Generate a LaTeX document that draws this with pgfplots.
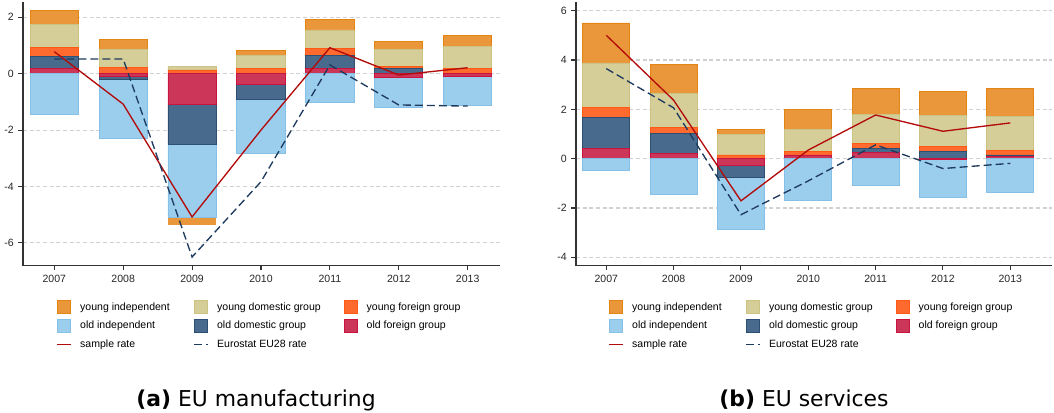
\documentclass[border=0pt]{standalone}
\usepackage{fontspec}
\setmainfont{Liberation Sans}
\newfontfamily\capfont{DejaVu Sans}
\usepackage{pgfplots}
\pgfplotsset{compat=1.18}
\usepackage{pgfplotstable}

\definecolor{cYI}{HTML}{E9973A}
\definecolor{cYIb}{HTML}{E38413}
\definecolor{cYD}{HTML}{D5CE98}
\definecolor{cYDb}{HTML}{CBC283}
\definecolor{cYF}{HTML}{FF6B2F}
\definecolor{cYFb}{HTML}{FF5A14}
\definecolor{cOI}{HTML}{9BCDEC}
\definecolor{cOIb}{HTML}{86C0E6}
\definecolor{cOD}{HTML}{486A8C}
\definecolor{cODb}{HTML}{2D4F73}
\definecolor{cOF}{HTML}{CC3659}
\definecolor{cOFb}{HTML}{C8143F}
\definecolor{cSample}{HTML}{B30A0A}
\definecolor{cEuro}{HTML}{1E3A5F}

% EU manufacturing: contributions by firm group
\pgfplotstableread{
year oF oD oI yF yD yI
2007 0.19 0.41 -1.44 0.33 0.83 0.49
2008 -0.08 -0.11 -2.10 0.23 0.62 0.36
2009 -1.09 -1.42 -2.59 0.13 0.14 -0.25
2010 -0.38 -0.52 -1.94 0.17 0.46 0.20
2011 0.20 0.46 -1.02 0.22 0.67 0.38
2012 -0.12 0.18 -1.08 0.08 0.60 0.29
2013 -0.08 0.02 -1.06 0.15 0.81 0.36
}\manuf
\pgfplotstableread{
year sample euro
2007 0.78 0.52
2008 -1.08 0.52
2009 -5.08 -6.50
2010 -2.00 -3.83
2011 0.92 0.31
2012 -0.05 -1.11
2013 0.21 -1.15
}\manufline
% EU services
\pgfplotstableread{
year oF oD oI yF yD yI
2007 0.43 1.25 -0.48 0.41 1.79 1.62
2008 0.21 0.81 -1.45 0.26 1.37 1.16
2009 -0.27 -0.50 -2.11 0.15 0.84 0.21
2010 0.15 0.00 -1.69 0.16 0.88 0.82
2011 0.26 0.16 -1.07 0.20 1.19 1.04
2012 -0.03 0.31 -1.55 0.20 1.25 0.96
2013 0.08 0.07 -1.37 0.20 1.37 1.11
}\serv
\pgfplotstableread{
year sample euro
2007 5.00 3.65
2008 2.37 2.06
2009 -1.71 -2.27
2010 0.35 -0.90
2011 1.77 0.56
2012 1.11 -0.40
2013 1.45 -0.19
}\servline

\pgfplotsset{
  common/.style={scale only axis, height=197.8pt, anchor=south west},
  frame/.style={common,
    axis x line*=bottom, axis y line*=left,
    axis line style={-, draw=black!80, line width=0.9pt},
    tick style={draw=black!80, line width=0.8pt},
    major tick length=3.5pt, tick align=outside,
    xtick={2007,2008,2009,2010,2011,2012,2013},
    ymajorgrids,
    major grid style={draw=black!18, dash pattern=on 3pt off 2pt, line width=0.8pt},
    tick label style={font=\fontsize{7.9}{9}\selectfont, text=black!85},
    /pgf/number format/assume math mode=true,
    /pgf/number format/1000 sep={},
    ybar stacked, bar width=0.7},
  over/.style={common, hide axis},
  bd/.style={line width=0.6pt},
  sq legend/.style={legend image code/.code={\draw[line width=0.75pt,##1] (0.4pt,-4.9pt) rectangle (10.1pt,4.9pt);}},
  sampleline/.style={color=cSample, line width=1pt, mark=none,
    legend image code/.code={\draw[cSample, line width=1pt] (0pt,0pt) -- (10.5pt,0pt);}},
  euroline/.style={color=cEuro, line width=1pt, mark=none, dash pattern=on 6pt off 3pt,
    legend image code/.code={\draw[cEuro, line width=1pt, dash pattern=on 6pt off 3pt] (0pt,0pt) -- (10.5pt,0pt);}},
  leg/.style={legend style={at={(axis description cs:#1,-0.128)}, anchor=north west,
    draw=none, fill=none, inner sep=0pt, font=\fontsize{7.9}{9}\selectfont,
    legend columns=3, row sep=2.7pt,
    /tikz/every odd column/.append style={column sep=4.5pt},
    /tikz/every even column/.append style={column sep=15.5pt}},
    legend cell align=left},
}

\newcommand\legendbars{%
  \addlegendimage{sq legend, fill=cYI, draw=cYIb}\addlegendentry{young independent}
  \addlegendimage{sq legend, fill=cYD, draw=cYDb}\addlegendentry{young domestic group}
  \addlegendimage{sq legend, fill=cYF, draw=cYFb}\addlegendentry{young foreign group}
  \addlegendimage{sq legend, fill=cOI, draw=cOIb}\addlegendentry{old independent}
  \addlegendimage{sq legend, fill=cOD, draw=cODb}\addlegendentry{old domestic group}
  \addlegendimage{sq legend, fill=cOF, draw=cOFb}\addlegendentry{old foreign group}
}

\begin{document}
\begin{tikzpicture}
\path[use as bounding box] (0,0) rectangle (790.5pt,309pt);

% ---------------- (a) EU manufacturing ----------------
\begin{axis}[frame, at={(17.25pt,109.7pt)}, width=357.75pt,
  xmin=2006.546, xmax=2013.469, ymin=-6.81, ymax=2.54, ytick={-6,-4,-2,0,2}]
  \addplot[fill=cOF, draw=cOFb, bd] table[x=year, y expr={max(\thisrow{oF},0)}]{\manuf};
  \addplot[fill=cOD, draw=cODb, bd] table[x=year, y expr={max(\thisrow{oD},0)}]{\manuf};
  \addplot[fill=cOI, draw=none] table[x=year, y expr={max(\thisrow{oI},0)}]{\manuf};
  \addplot[fill=cYF, draw=cYFb, bd] table[x=year, y expr={max(\thisrow{yF},0)}]{\manuf};
  \addplot[fill=cYD, draw=cYDb, bd] table[x=year, y expr={max(\thisrow{yD},0)}]{\manuf};
  \addplot[fill=cYI, draw=cYIb, bd] table[x=year, y expr={max(\thisrow{yI},0)}]{\manuf};
\end{axis}
\begin{axis}[over, ybar stacked, bar width=0.7, at={(17.25pt,109.7pt)}, width=357.75pt,
  xmin=2006.546, xmax=2013.469, ymin=-6.81, ymax=2.54]
  \addplot[fill=cOF, draw=cOFb, bd] table[x=year, y expr={min(\thisrow{oF},0)}]{\manuf};
  \addplot[fill=cOD, draw=cODb, bd] table[x=year, y expr={min(\thisrow{oD},0)}]{\manuf};
  \addplot[fill=cOI, draw=cOIb, bd] table[x=year, y expr={min(\thisrow{oI},0)}]{\manuf};
  \addplot[fill=cYF, draw=none] table[x=year, y expr={min(\thisrow{yF},0)}]{\manuf};
  \addplot[fill=cYD, draw=none] table[x=year, y expr={min(\thisrow{yD},0)}]{\manuf};
  \addplot[fill=cYI, draw=none] table[x=year, y expr={min(\thisrow{yI},0)}]{\manuf};
\end{axis}
\begin{axis}[over, at={(17.25pt,109.7pt)}, width=357.75pt,
  xmin=2006.546, xmax=2013.469, ymin=-6.81, ymax=2.54, leg=0.069]
  \legendbars
  \addplot[sampleline] table[x=year, y=sample]{\manufline};
  \addlegendentry{sample rate}
  \addplot[euroline] table[x=year, y=euro]{\manufline};
  \addlegendentry{Eurostat EU28 rate}
\end{axis}

% ---------------- (b) EU services ----------------
\begin{axis}[frame, at={(432pt,109.7pt)}, width=357pt,
  xmin=2006.55, xmax=2013.62, ymin=-4.34, ymax=6.35, ytick={-4,-2,0,2,4,6}]
  \addplot[fill=cOF, draw=cOFb, bd] table[x=year, y expr={max(\thisrow{oF},0)}]{\serv};
  \addplot[fill=cOD, draw=cODb, bd] table[x=year, y expr={max(\thisrow{oD},0)}]{\serv};
  \addplot[fill=cOI, draw=none] table[x=year, y expr={max(\thisrow{oI},0)}]{\serv};
  \addplot[fill=cYF, draw=cYFb, bd] table[x=year, y expr={max(\thisrow{yF},0)}]{\serv};
  \addplot[fill=cYD, draw=cYDb, bd] table[x=year, y expr={max(\thisrow{yD},0)}]{\serv};
  \addplot[fill=cYI, draw=cYIb, bd] table[x=year, y expr={max(\thisrow{yI},0)}]{\serv};
\end{axis}
\begin{axis}[over, ybar stacked, bar width=0.7, at={(432pt,109.7pt)}, width=357pt,
  xmin=2006.55, xmax=2013.62, ymin=-4.34, ymax=6.35]
  \addplot[fill=cOF, draw=cOFb, bd] table[x=year, y expr={min(\thisrow{oF},0)}]{\serv};
  \addplot[fill=cOD, draw=cODb, bd] table[x=year, y expr={min(\thisrow{oD},0)}]{\serv};
  \addplot[fill=cOI, draw=cOIb, bd] table[x=year, y expr={min(\thisrow{oI},0)}]{\serv};
  \addplot[fill=cYF, draw=none] table[x=year, y expr={min(\thisrow{yF},0)}]{\serv};
  \addplot[fill=cYD, draw=none] table[x=year, y expr={min(\thisrow{yD},0)}]{\serv};
  \addplot[fill=cYI, draw=none] table[x=year, y expr={min(\thisrow{yI},0)}]{\serv};
\end{axis}
\begin{axis}[over, at={(432pt,109.7pt)}, width=357pt,
  xmin=2006.55, xmax=2013.62, ymin=-4.34, ymax=6.35, leg=0.067]
  \legendbars
  \addplot[sampleline] table[x=year, y=sample]{\servline};
  \addlegendentry{sample rate}
  \addplot[euroline] table[x=year, y=euro]{\servline};
  \addlegendentry{Eurostat EU28 rate}
\end{axis}

\node[anchor=base, font=\capfont\fontsize{16.4}{19}\selectfont] at (192pt,4pt) {\textbf{(a)} EU manufacturing};
\node[anchor=base, font=\capfont\fontsize{16.4}{19}\selectfont] at (603pt,4pt) {\textbf{(b)} EU services};
\end{tikzpicture}
\end{document}
